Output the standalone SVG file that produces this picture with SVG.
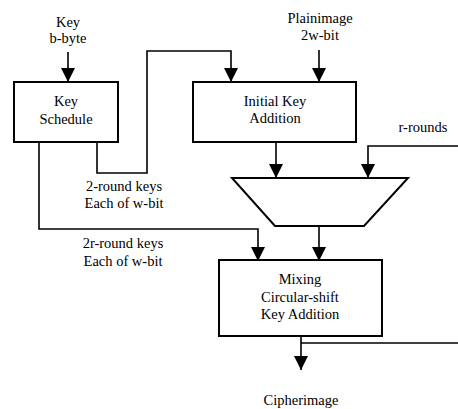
<svg xmlns="http://www.w3.org/2000/svg" width="458" height="409" viewBox="0 0 458 409">
<style>
text{font-family:"Liberation Serif","Times New Roman",serif;font-size:14.5px;fill:#000;text-anchor:middle}
.box{fill:#fff;stroke:#000;stroke-width:2}
.ln{fill:none;stroke:#000;stroke-width:1.6}
</style>
<defs>
<marker id="ah" markerUnits="userSpaceOnUse" markerWidth="14" markerHeight="14" viewBox="0 0 14 14" refX="14" refY="7" orient="auto"><path d="M0,0 L14,7 L0,14 Z" fill="#000"/></marker>
</defs>
<g id="connectors">
<path class="ln" d="M68,52 V82" marker-end="url(#ah)"/>
<path class="ln" d="M319,50 V82" marker-end="url(#ah)"/>
<path class="ln" d="M97,142 V173 H147 V51 H231 V82" marker-end="url(#ah)"/>
<path class="ln" d="M39,142 V229 H258 V261" marker-end="url(#ah)"/>
<path class="ln" d="M276,142 V178" marker-end="url(#ah)"/>
<path class="ln" d="M458,146 H368 V178" marker-end="url(#ah)"/>
<path class="ln" d="M319,226 V261" marker-end="url(#ah)"/>
<path class="ln" d="M301,336 V370" marker-end="url(#ah)"/>
<path class="ln" d="M301,343 H458"/>
</g>
<g id="key-label"><text x="68" y="27">Key</text><text x="68" y="43">b-byte</text></g>
<g id="plain-label"><text x="320" y="23">Plainimage</text><text x="320" y="40">2w-bit</text></g>
<g id="key-schedule"><rect class="box" x="14" y="82" width="104" height="60"/><text x="66" y="106">Key</text><text x="66" y="124">Schedule</text></g>
<g id="initial-key-addition"><rect class="box" x="193" y="82" width="163" height="60"/><text x="275" y="106">Initial Key</text><text x="275" y="123">Addition</text></g>
<g id="r-rounds-label"><text x="423" y="132">r-rounds</text></g>
<g id="mux"><path class="box" d="M232,178 H408 L364,226 H275 Z"/></g>
<g id="round2-label"><text x="124" y="191">2-round keys</text><text x="124" y="208">Each of w-bit</text></g>
<g id="round2r-label"><text x="123" y="248">2r-round keys</text><text x="123" y="266">Each of w-bit</text></g>
<g id="mixing"><rect class="box" x="219" y="260" width="163" height="76"/><text x="300" y="284">Mixing</text><text x="300" y="302">Circular-shift</text><text x="300" y="319">Key Addition</text></g>
<g id="cipher-label"><text x="301" y="405">Cipherimage</text></g>
</svg>
